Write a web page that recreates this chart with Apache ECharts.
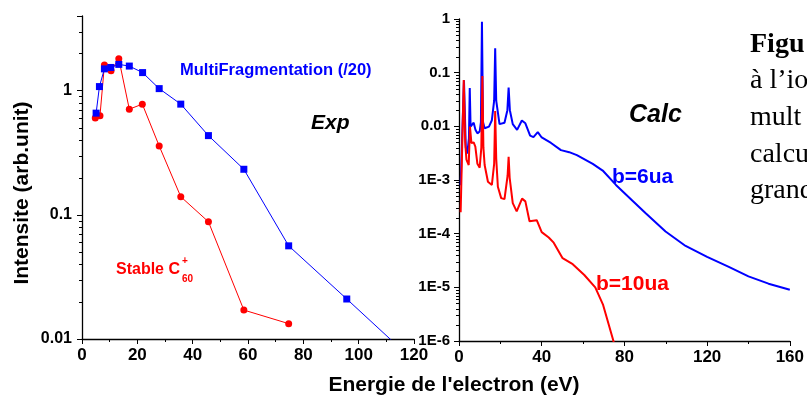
<!DOCTYPE html>
<html><head><meta charset="utf-8">
<script src="https://cdn.jsdelivr.net/npm/echarts@6/dist/echarts.min.js"></script>
<style>html,body{margin:0;padding:0;background:#fff;overflow:hidden}#c{width:807px;height:396px}</style>
</head><body><div id="c"></div>
<script>
// ---------- Left panel (Exp) ----------
const expEnergyMulti = [5.1, 6.3, 8.1, 10.4, 13.3, 17.1, 21.9, 27.9, 35.7, 45.7, 58.5, 74.7, 95.7, 118];
const expMultiFrag   = [0.66, 1.08, 1.50, 1.54, 1.63, 1.58, 1.40, 1.04, 0.78, 0.435, 0.233, 0.0563, 0.021, 0.0073];
const expEnergyStable = [4.8, 6.5, 8.1, 10.5, 13.3, 17.1, 21.8, 27.9, 35.7, 45.7, 58.5, 74.7];
const expStableC60    = [0.603, 0.63, 1.61, 1.45, 1.81, 0.71, 0.78, 0.359, 0.140, 0.088, 0.0171, 0.0133];
const leftXTicks = [0, 20, 40, 60, 80, 100, 120];
const leftYTicks = [0.01, 0.1, 1];

// ---------- Right panel (Calc) ----------
const calcEnergyB6 = [0.8, 2.4, 3.3, 4.0, 4.8, 5.2, 5.6, 6.5, 7.1, 8.0, 8.9, 10.0, 10.6, 11.1, 11.6, 12.4, 14.5, 15.9, 17.0, 17.5, 18.0, 19.6, 22.0, 23.4, 24.0, 24.6, 26.0, 28.1, 30.4, 32.1, 34.4, 36.0, 38.1, 40.0, 44.5, 49.3, 53.3, 57.0, 64.7, 69.5, 75.9, 83.4, 90.3, 99.9, 109.6, 120.0, 130.5, 140.0, 149.7, 160.0];
const calcB6 = [8e-4, 0.072, 0.004, 0.0031, 0.006, 0.052, 0.0099, 0.0105, 0.0117, 0.0085, 0.0074, 0.008, 0.012, 0.89, 0.012, 0.0092, 0.0099, 0.013, 0.03, 0.284, 0.03, 0.011, 0.0117, 0.02, 0.053, 0.02, 0.011, 0.0086, 0.0128, 0.0114, 0.0067, 0.0063, 0.0078, 0.0062, 0.0049, 0.0036, 0.0033, 0.0029, 0.0020, 0.0015, 8.1e-4, 4.3e-4, 2.4e-4, 1.1e-4, 5.9e-5, 3.7e-5, 2.4e-5, 1.6e-5, 1.17e-5, 9e-6];
const calcEnergyB10 = [0.8, 2.3, 3.0, 3.6, 4.7, 5.3, 6.0, 7.1, 7.9, 8.9, 10.0, 10.8, 11.3, 11.8, 12.4, 14.0, 15.9, 17.0, 17.5, 18.0, 18.8, 20.4, 22.0, 23.5, 24.0, 24.5, 26.0, 27.9, 30.5, 32.1, 34.1, 37.6, 40.0, 43.4, 45.8, 50.1, 55.0, 60.6, 65.9, 69.7, 74.7, 76.0];
const calcB10 = [2.5e-4, 0.073, 0.005, 0.0024, 0.0019, 0.0099, 0.0049, 0.005, 0.0042, 0.0020, 0.0017, 0.004, 0.087, 0.004, 0.0019, 9.3e-4, 8.1e-4, 0.002, 0.0193, 0.0025, 7.5e-4, 4.6e-4, 4.4e-4, 0.0012, 0.0027, 0.0011, 3.7e-4, 2.6e-4, 4.5e-4, 4.0e-4, 1.7e-4, 1.78e-4, 1.07e-4, 8.5e-5, 6.8e-5, 3.5e-5, 2.7e-5, 1.7e-5, 1.0e-5, 4.7e-6, 1.0e-6, 5e-7];
const rightXTicks = [0, 40, 80, 120, 160];
const rightYTicks = [1e-6, 1e-5, 1e-4, 1e-3, 0.01, 0.1, 1];

const FONT = '"Liberation Sans", Arial, sans-serif';
const SERIF = '"Liberation Serif", "Times New Roman", serif';

function minorList(minExp, maxExp, maxVal) {
  const out = [];
  for (let e = minExp; e <= maxExp; e++) {
    for (let m = 2; m <= 9; m++) {
      const v = +(m * Math.pow(10, e)).toPrecision(3);
      if (v <= maxVal) out.push(v);
    }
  }
  return out;
}
const leftMinor = minorList(-2, 0, 4);
const rightMinor = minorList(-6, -1, 1);

function minorTickSeries(xi, yi, values, len) {
  return {
    type: 'custom', xAxisIndex: xi, yAxisIndex: yi, silent: true, clip: false, z: 5,
    data: values.map(v => [0, v]),
    renderItem: (params, api) => {
      const p = api.coord([api.value(0), api.value(1)]);
      const y = Math.round(p[1]) + 0.5;
      const x = Math.round(p[0]);
      return { type: 'line', shape: { x1: x - len, y1: y, x2: x, y2: y }, style: { stroke: '#000', lineWidth: 1 } };
    }
  };
}

function isPow10(v) { const l = Math.log10(v); return Math.abs(l - Math.round(l)) < 1e-6; }

const axisCommon = {
  axisLine: { lineStyle: { color: '#000', width: 1.3 } },
  axisTick: { length: 5, lineStyle: { color: '#000' } },
  splitLine: { show: false },
  axisLabel: { color: '#000', fontFamily: FONT, fontWeight: 'bold', fontSize: 16 }
};

const chart = echarts.init(document.getElementById('c'), null, { renderer: 'canvas' });
chart.setOption({
  animation: false,
  backgroundColor: '#fff',
  grid: [
    { left: 82, top: 16, width: 332, height: 323 },
    { left: 459, top: 19, width: 333, height: 322 }
  ],
  xAxis: [
    Object.assign({}, axisCommon, {
      gridIndex: 0, type: 'value', min: leftXTicks[0], max: leftXTicks[leftXTicks.length - 1], interval: 20,
      minorTick: { show: true, splitNumber: 2, length: 3, lineStyle: { color: '#000' } },
      axisLabel: Object.assign({}, axisCommon.axisLabel, { margin: 8, fontSize: 17 })
    }),
    Object.assign({}, axisCommon, {
      gridIndex: 1, type: 'value', min: rightXTicks[0], max: rightXTicks[rightXTicks.length - 1], interval: 40,
      minorTick: { show: true, splitNumber: 2, length: 3, lineStyle: { color: '#000' } },
      axisLabel: Object.assign({}, axisCommon.axisLabel, { margin: 8, fontSize: 17 })
    })
  ],
  yAxis: [
    Object.assign({}, axisCommon, {
      gridIndex: 0, type: 'log', logBase: 10, min: leftYTicks[0], max: 4,
      axisLabel: Object.assign({}, axisCommon.axisLabel, {
        margin: 10,
        formatter: v => isPow10(v) ? String(+v.toPrecision(3)) : ''
      })
    }),
    Object.assign({}, axisCommon, {
      gridIndex: 1, type: 'log', logBase: 10, min: rightYTicks[0], max: rightYTicks[rightYTicks.length - 1],
      axisLabel: Object.assign({}, axisCommon.axisLabel, {
        margin: 9, fontSize: 15,
        formatter: v => !isPow10(v) ? '' : (v > 0.005 ? String(+v.toPrecision(3)) : '1E' + Math.round(Math.log10(v)))
      })
    })
  ],
  series: [
    {
      name: 'Stable C60+', type: 'line', xAxisIndex: 0, yAxisIndex: 0,
      data: expEnergyStable.map((e, i) => [e, expStableC60[i]]),
      symbol: 'circle', symbolSize: 7, color: '#ff0000',
      lineStyle: { color: '#ff0000', width: 1 }, itemStyle: { color: '#ff0000' }, z: 3
    },
    {
      name: 'MultiFragmentation (/20)', type: 'line', xAxisIndex: 0, yAxisIndex: 0,
      data: expEnergyMulti.map((e, i) => [e, expMultiFrag[i]]),
      symbol: 'rect', symbolSize: 7, color: '#0000ff',
      lineStyle: { color: '#0000ff', width: 1 }, itemStyle: { color: '#0000ff' }, z: 4
    },
    {
      name: 'b=6ua', type: 'line', xAxisIndex: 1, yAxisIndex: 1,
      data: calcEnergyB6.map((e, i) => [e, calcB6[i]]),
      showSymbol: false, symbol: 'none', color: '#0000ff',
      lineStyle: { color: '#0000ff', width: 2 }, z: 3
    },
    {
      name: 'b=10ua', type: 'line', xAxisIndex: 1, yAxisIndex: 1,
      data: calcEnergyB10.map((e, i) => [e, calcB10[i]]),
      showSymbol: false, symbol: 'none', color: '#ff0000',
      lineStyle: { color: '#ff0000', width: 2 }, z: 4
    },
    minorTickSeries(0, 0, leftMinor, 3),
    minorTickSeries(1, 1, rightMinor, 3)
  ],
  graphic: [
    { type: 'text', x: 180, y: 70, style: { text: 'MultiFragmentation (/20)', fill: '#0000ff', font: 'bold 16.5px ' + FONT, textVerticalAlign: 'middle' } },
    { type: 'text', x: 311, y: 123, style: { text: 'Exp', fill: '#000', font: 'italic bold 21px ' + FONT, textVerticalAlign: 'middle' } },
    { type: 'text', x: 116, y: 270, style: { text: 'Stable C', fill: '#ff0000', font: 'bold 16px ' + FONT, textVerticalAlign: 'middle' } },
    { type: 'text', x: 182, y: 261, style: { text: '+', fill: '#ff0000', font: 'bold 10px ' + FONT, textVerticalAlign: 'middle' } },
    { type: 'text', x: 182, y: 279, style: { text: '60', fill: '#ff0000', font: 'bold 10px ' + FONT, textVerticalAlign: 'middle' } },
    { type: 'text', x: 629, y: 115, style: { text: 'Calc', fill: '#000', font: 'italic bold 25px ' + FONT, textVerticalAlign: 'middle' } },
    { type: 'text', x: 612, y: 177, style: { text: 'b=6ua', fill: '#0000ff', font: 'bold 21px ' + FONT, textVerticalAlign: 'middle' } },
    { type: 'text', x: 596, y: 284, style: { text: 'b=10ua', fill: '#ff0000', font: 'bold 21px ' + FONT, textVerticalAlign: 'middle' } },
    { type: 'text', x: 22, y: 193, rotation: Math.PI / 2, style: { text: 'Intensite (arb.unit)', fill: '#000', font: 'bold 21px ' + FONT, textAlign: 'center', textVerticalAlign: 'middle' } },
    { type: 'text', x: 454, y: 385, style: { text: "Energie de l'electron (eV)", fill: '#000', font: 'bold 21px ' + FONT, textAlign: 'center', textVerticalAlign: 'middle' } },
    { type: 'text', x: 750, y: 45, style: { text: 'Figu', fill: '#000', font: 'bold 28px ' + SERIF, textVerticalAlign: 'middle' } },
    { type: 'text', x: 750, y: 81, style: { text: 'à l’io', fill: '#000', font: '28px ' + SERIF, textVerticalAlign: 'middle' } },
    { type: 'text', x: 750, y: 118, style: { text: 'mult', fill: '#000', font: '28px ' + SERIF, textVerticalAlign: 'middle' } },
    { type: 'text', x: 750, y: 155, style: { text: 'calcu', fill: '#000', font: '28px ' + SERIF, textVerticalAlign: 'middle' } },
    { type: 'text', x: 750, y: 191, style: { text: 'grand', fill: '#000', font: '28px ' + SERIF, textVerticalAlign: 'middle' } }
  ]
});
</script>
</body></html>
